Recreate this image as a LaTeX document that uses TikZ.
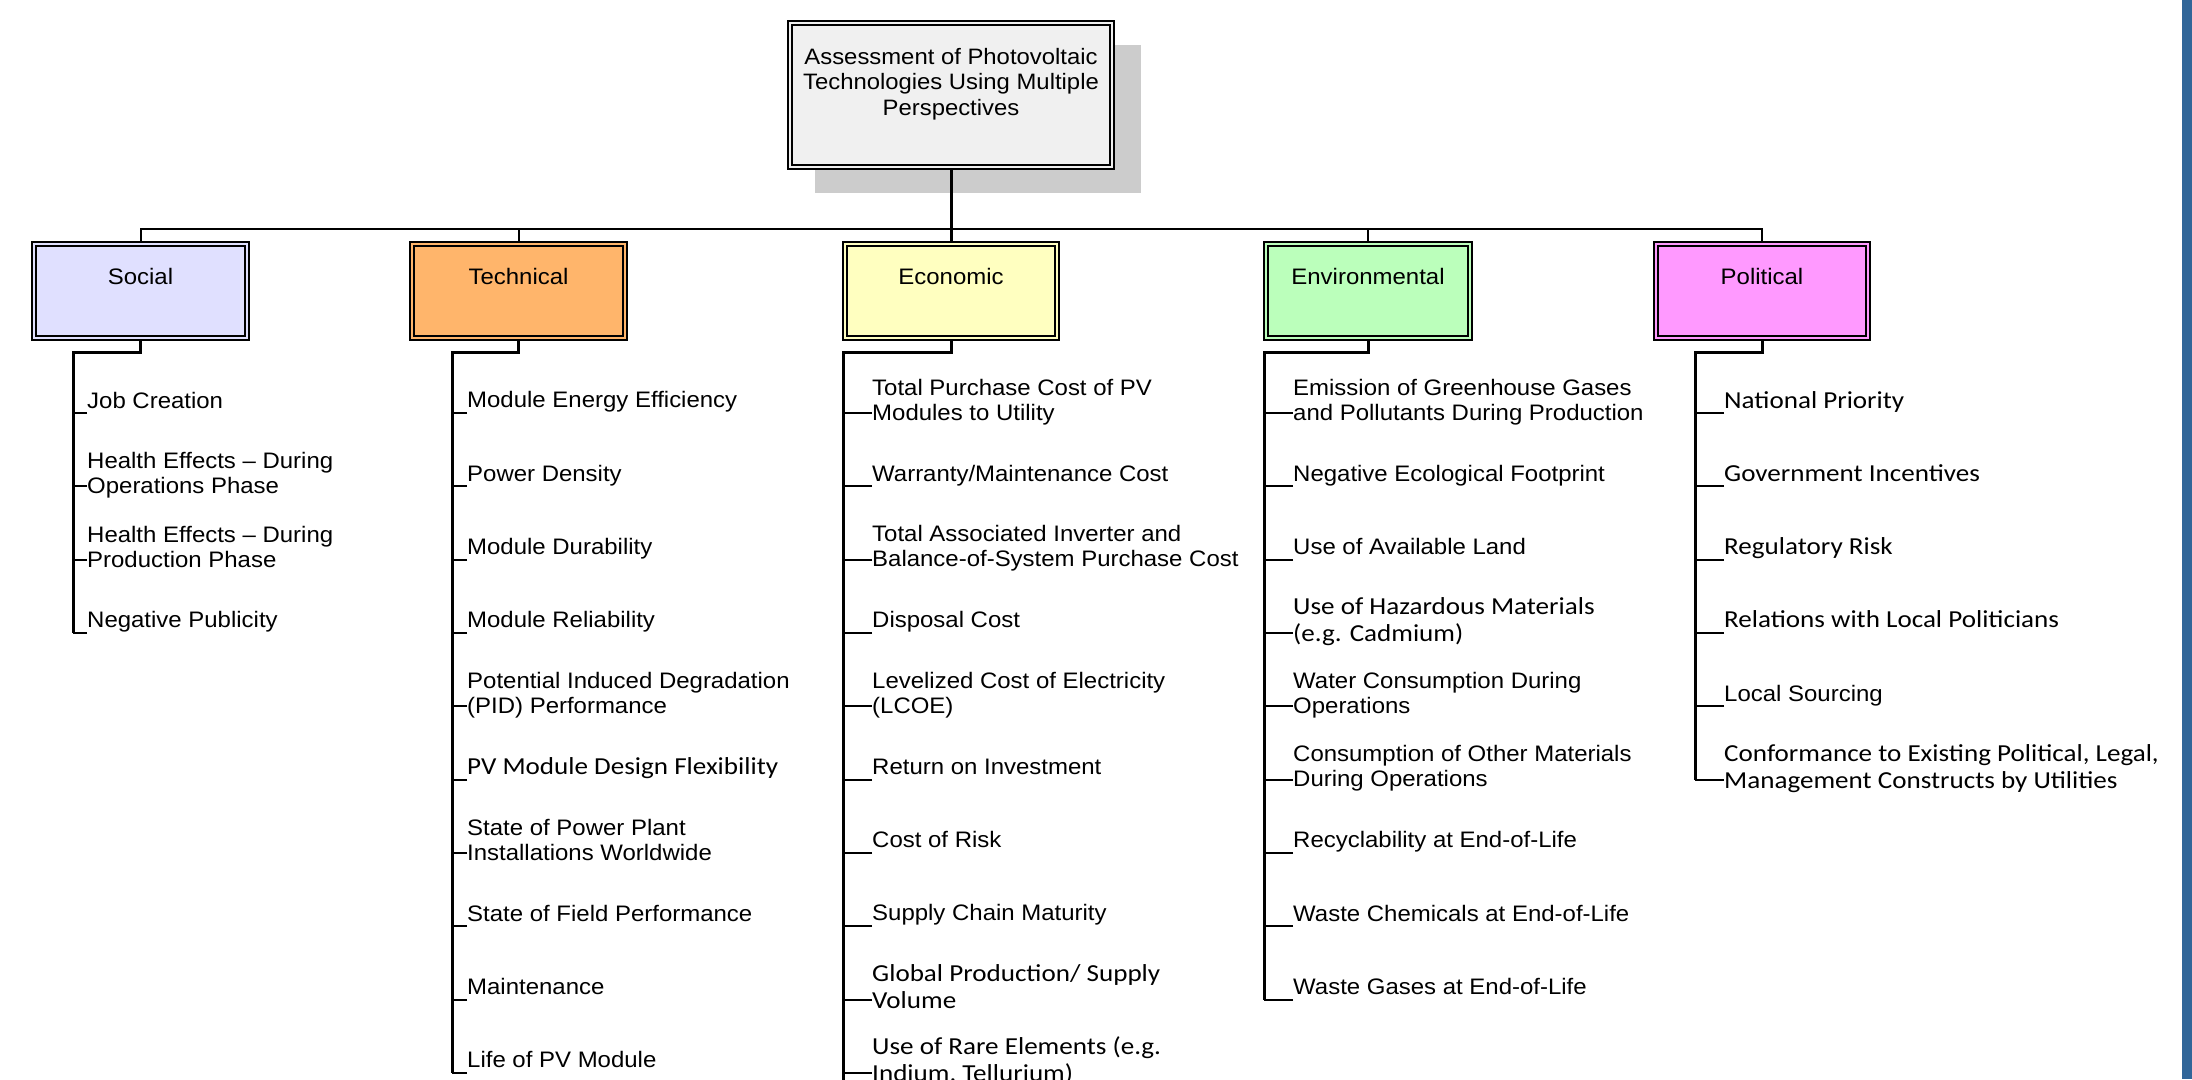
\documentclass[tikz,border=0pt]{standalone}
\usepackage{fontspec}
\setmainfont{Liberation Sans}
\newfontfamily\arialf[FakeStretch=1.07]{Liberation Sans}
\newfontfamily\calf[FakeStretch=1.11]{Carlito}
\usetikzlibrary{shadows}
\definecolor{socfill}{HTML}{E0E0FF}
\definecolor{tecfill}{HTML}{FFB56B}
\definecolor{ecofill}{HTML}{FFFFC0}
\definecolor{envfill}{HTML}{BBFFBB}
\definecolor{polfill}{HTML}{FF99FF}
\definecolor{rootfill}{HTML}{F0F0F0}
\definecolor{shadowgray}{HTML}{CCCCCC}
\definecolor{barblue}{HTML}{316699}
\newcommand\ist{\rule[-4pt]{0pt}{24pt}}
\begin{document}
\begin{tikzpicture}[x=1pt,y=-1pt,
  fa/.style={font=\arialf\fontsize{22.4}{25}\selectfont},
  fr/.style={font=\arialf\fontsize{22.3}{25.5}\selectfont},
  fc/.style={font=\calf\fontsize{24.4}{27}\selectfont},
  item/.style={anchor=west, inner sep=0pt, align=left},
  catbox/.style={draw, line width=1.2pt, fill=#1, minimum height=98pt, inner sep=0pt},
  catlabel/.style={fa, anchor=center, yshift=-35pt, inner sep=0pt},
  innerframe/.style={draw, line width=2pt},
  busline/.style={line width=2pt},
  stemline/.style={line width=3pt},
  trunk/.style={line width=3pt},
  tickline/.style={line width=2pt}
]
\useasboundingbox (0,0) rectangle (2192,1079);
\fill[white] (0,0) rectangle (2192,1079);
\fill[barblue] (2182,0) rectangle (2192,1079);

% root
\node[draw, line width=1.2pt, fill=rootfill, minimum width=326pt, minimum height=148pt, inner sep=0pt,
      drop shadow={shadow xshift=27pt, shadow yshift=-24pt, fill=shadowgray, opacity=1},
      label={[fr, align=center, anchor=center, yshift=-61.5pt, inner sep=0pt]north:{\ist Assessment of Photovoltaic\\\ist Technologies Using Multiple\\\ist Perspectives}}]
  (root) at (951,95) {};
\draw[innerframe] ([shift={(5,5)}]root.north west) rectangle ([shift={(-5,-5)}]root.south east);

% categories
\node[catbox=socfill, minimum width=217pt, label={[catlabel]north:{\ist Social}}] (soc) at (140.5,291) {};
\node[catbox=tecfill, minimum width=217pt, label={[catlabel]north:{\ist Technical}}] (tec) at (518.5,291) {};
\node[catbox=ecofill, minimum width=216pt, label={[catlabel]north:{\ist Economic}}] (eco) at (951,291) {};
\node[catbox=envfill, minimum width=208pt, label={[catlabel]north:{\ist Environmental}}] (env) at (1368,291) {};
\node[catbox=polfill, minimum width=216pt, label={[catlabel]north:{\ist Political}}] (pol) at (1762,291) {};
\foreach \n in {soc,tec,eco,env,pol}{
  \draw[innerframe] ([shift={(5,5)}]\n.north west) rectangle ([shift={(-5,-5)}]\n.south east);
}

% bus
\coordinate (bus) at (951,229);
\draw[busline] (soc.north) |- (bus) -| (pol.north);
\draw[busline] (tec.north) -- (tec.north |- bus);
\draw[busline] (env.north) -- (env.north |- bus);
\draw[stemline] (root.south) -- (eco.north);

% Social
\foreach \i/\f/\t in {
  1/fa/{\ist Job Creation},
  2/fa/{\ist Health Effects – During\\\ist Operations Phase},
  3/fa/{\ist Health Effects – During\\\ist Production Phase},
  4/fa/{\ist Negative Publicity}}{
  \node[item,\f] (s\i) at (87,{326.67+73.33*\i}) {\t};
  \draw[tickline] ([yshift=-13pt]s\i.west) -- ++(-14,0);
}
\draw[trunk] (soc.south) -- ++(0,12) -| ([xshift=-14pt,yshift=-13pt]s4.west);

% Technical
\foreach \i/\f/\t in {
  1/fa/{\ist Module Energy Efficiency},
  2/fa/{\ist Power Density},
  3/fa/{\ist Module Durability},
  4/fa/{\ist Module Reliability},
  5/fa/{\ist Potential Induced Degradation\\\ist (PID) Performance},
  6/fc/{\ist PV Module Design Flexibility},
  7/fa/{\ist State of Power Plant\\\ist Installations Worldwide},
  8/fa/{\ist State of Field Performance},
  9/fa/{\ist Maintenance},
  10/fa/{\ist Life of PV Module}}{
  \node[item,\f] (t\i) at (467,{326.67+73.33*\i}) {\t};
  \draw[tickline] ([yshift=-13pt]t\i.west) -- ++(-15,0);
}
\draw[trunk] (tec.south) -- ++(0,12) -| ([xshift=-15pt,yshift=-13pt]t10.west);

% Economic
\foreach \i/\f/\t in {
  1/fa/{\ist Total Purchase Cost of PV\\\ist Modules to Utility},
  2/fa/{\ist Warranty/Maintenance Cost},
  3/fa/{\ist Total Associated Inverter and\\\ist Balance-of-System Purchase Cost},
  4/fa/{\ist Disposal Cost},
  5/fa/{\ist Levelized Cost of Electricity\\\ist (LCOE)},
  6/fa/{\ist Return on Investment},
  7/fa/{\ist Cost of Risk},
  8/fa/{\ist Supply Chain Maturity},
  9/fc/{\ist Global Production/ Supply\\\ist Volume},
  10/fc/{\ist Use of Rare Elements (e.g.\\\ist Indium, Tellurium)}}{
  \node[item,\f] (e\i) at (872,{326.67+73.33*\i}) {\t};
  \draw[tickline] ([yshift=-13pt]e\i.west) -- ++(-29,0);
}
\coordinate (ecoend) at (843,1085);
\draw[trunk] (eco.south) -- ++(0,12) -| (ecoend);

% Environmental
\foreach \i/\f/\t in {
  1/fa/{\ist Emission of Greenhouse Gases\\\ist and Pollutants During Production},
  2/fa/{\ist Negative Ecological Footprint},
  3/fa/{\ist Use of Available Land},
  4/fc/{\ist Use of Hazardous Materials\\\ist (e.g. Cadmium)},
  5/fa/{\ist Water Consumption During\\\ist Operations},
  6/fa/{\ist Consumption of Other Materials\\\ist During Operations},
  7/fa/{\ist Recyclability at End-of-Life},
  8/fa/{\ist Waste Chemicals at End-of-Life},
  9/fa/{\ist Waste Gases at End-of-Life}}{
  \node[item,\f] (v\i) at (1293,{326.67+73.33*\i}) {\t};
  \draw[tickline] ([yshift=-13pt]v\i.west) -- ++(-29,0);
}
\draw[trunk] (env.south) -- ++(0,12) -| ([xshift=-29pt,yshift=-13pt]v9.west);

% Political
\foreach \i/\f/\t in {
  1/fc/{\ist National Priority},
  2/fc/{\ist Government Incentives},
  3/fc/{\ist Regulatory Risk},
  4/fc/{\ist Relations with Local Politicians},
  5/fa/{\ist Local Sourcing},
  6/fc/{\ist Conformance to Existing Political, Legal,\\\ist Management Constructs by Utilities}}{
  \node[item,\f] (p\i) at (1724,{326.67+73.33*\i}) {\t};
  \draw[tickline] ([yshift=-13pt]p\i.west) -- ++(-29,0);
}
\draw[trunk] (pol.south) -- ++(0,12) -| ([xshift=-29pt,yshift=-13pt]p6.west);
\end{tikzpicture}
\end{document}
